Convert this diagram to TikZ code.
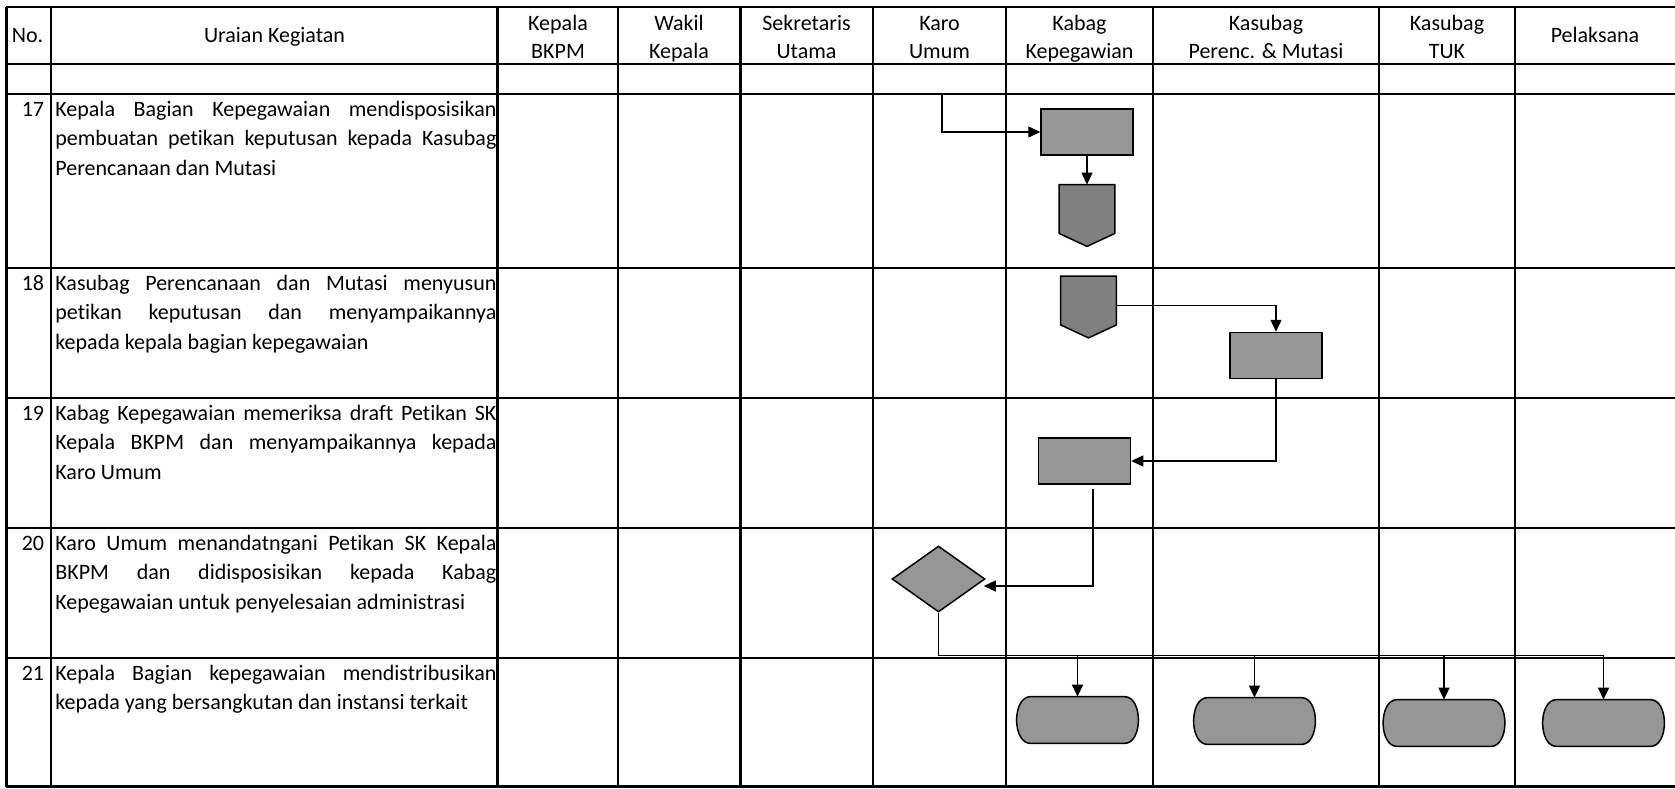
\documentclass[tikz,border=0pt]{standalone}
\usepackage{fontspec}
\setmainfont{Carlito}[Ligatures={NoCommon}]
\usetikzlibrary{arrows.meta,shapes.geometric}
\definecolor{boxgray}{HTML}{969696}
\definecolor{pentgray}{HTML}{808080}
\newcommand{\drawterm}[1]{\draw[shapeline,fill=boxgray] ([xshift=7pt]#1.north west) -- ([xshift=-7pt]#1.north east) .. controls ([xshift=2.33pt]#1.north east) and ([xshift=2.33pt]#1.south east) .. ([xshift=-7pt]#1.south east) -- ([xshift=7pt]#1.south west) .. controls ([xshift=-2.33pt]#1.south west) and ([xshift=-2.33pt]#1.north west) .. cycle;}
\newcommand{\drawpent}[1]{\draw[shapeline,fill=pentgray] (#1.north west) -- (#1.north east) -- (#1.south east) -- ([yshift=-6.5pt]#1.south) -- (#1.south west) -- cycle;}
\begin{document}
\begin{tikzpicture}[x=0.5pt,y=-0.5pt,
  gridline/.style={line width=1.05pt},
  fnt/.style={font=\fontsize{11pt}{15pt}\selectfont},
  hdr/.style={fnt,anchor=base,inner sep=0pt},
  txt/.style={fnt,anchor=base west,inner sep=0pt},
  num/.style={fnt,anchor=base east,inner sep=0pt},
  shapeline/.style={line width=0.75pt,draw=black},
  procbox/.style={rectangle,shapeline,fill=boxgray,minimum width=46pt,minimum height=23pt,inner sep=0pt},
  pentbox/.style={rectangle,draw=none,minimum width=27.5pt,minimum height=24pt,inner sep=0pt},
  decbox/.style={diamond,shapeline,fill=boxgray,minimum width=46.5pt,minimum height=33pt,inner sep=0pt},
  termbox/.style={rectangle,draw=none,minimum width=60.5pt,minimum height=23pt,inner sep=0pt},
  conn/.style={line width=0.7pt,-{Triangle[length=6pt,width=5.5pt]}}
]
\useasboundingbox (0,0) rectangle (1675,788);
% grid
\foreach \x in {6.5,51,497.5,618,740.5,873,1006,1153,1379,1515}
  \draw[gridline] (\x,7) -- (\x,786.5);
\foreach \y in {7,64,94,268,398,528,658,786.5}
  \draw[gridline] (6,\y) -- (1675,\y);
% header
\node[hdr] (hno) at (27.5,42) {No.};
\node[hdr] (hur) at (274.5,42) {Uraian Kegiatan};
\node[hdr] (hka) at (558,30.5) {Kepala};
\node[hdr] (hkb) at (558,58) {BKPM};
\node[hdr] (hwa) at (679,30.5) {Wakil};
\node[hdr] (hwb) at (679,58) {Kepala};
\node[hdr] (hsa) at (806.5,30.5) {Sekretaris};
\node[hdr] (hsb) at (806.5,58) {Utama};
\node[hdr] (hra) at (939.5,30.5) {Karo};
\node[hdr] (hrb) at (939.5,58) {Umum};
\node[hdr] (hba) at (1079.5,30.5) {Kabag};
\node[hdr] (hbb) at (1079.5,58) {Kepegawian};
\node[hdr] (hpa) at (1266,30.5) {Kasubag};
\node[hdr] (hpb) at (1266,58) {Perenc. \& Mutasi};
\node[hdr] (hta) at (1447,30.5) {Kasubag};
\node[hdr] (htb) at (1447,58) {TUK};
\node[hdr] (hpl) at (1595,42) {Pelaksana};
% rows
\node[num] (n17) at (44.5,116) {17};
\node[txt] (r17a) at (55,116) {\makebox[220.5pt][s]{Kepala Bagian Kepegawaian mendisposisikan}};
\node[txt] (r17b) at (55,145.5) {\makebox[220.5pt][s]{pembuatan petikan keputusan kepada Kasubag}};
\node[txt] (r17c) at (55,175) {Perencanaan dan Mutasi};
\node[num] (n18) at (44.5,290) {18};
\node[txt] (r18a) at (55,290) {\makebox[220.5pt][s]{Kasubag Perencanaan dan Mutasi menyusun}};
\node[txt] (r18b) at (55,319.5) {\makebox[220.5pt][s]{petikan keputusan dan menyampaikannya}};
\node[txt] (r18c) at (55,349) {kepada kepala bagian kepegawaian};
\node[num] (n19) at (44.5,420) {19};
\node[txt] (r19a) at (55,420) {\makebox[220.5pt][s]{Kabag Kepegawaian memeriksa draft Petikan SK}};
\node[txt] (r19b) at (55,449.5) {\makebox[220.5pt][s]{Kepala BKPM dan menyampaikannya kepada}};
\node[txt] (r19c) at (55,479) {Karo Umum};
\node[num] (n20) at (44.5,550) {20};
\node[txt] (r20a) at (55,550) {\makebox[220.5pt][s]{Karo Umum menandatngani Petikan SK Kepala}};
\node[txt] (r20b) at (55,579.5) {\makebox[220.5pt][s]{BKPM dan didisposisikan kepada Kabag}};
\node[txt] (r20c) at (55,609) {Kepegawaian untuk penyelesaian administrasi};
\node[num] (n21) at (44.5,680) {21};
\node[txt] (r21a) at (55,680) {\makebox[220.5pt][s]{Kepala Bagian kepegawaian mendistribusikan}};
\node[txt] (r21b) at (55,709.5) {kepada yang bersangkutan dan instansi terkait};
% flow shapes
\coordinate (s0) at (942,94);
\node[procbox] (a) at (1087,132) {};
\node[pentbox] (p1) at (1087,209) {};
\drawpent{p1}
\node[pentbox] (p2) at (1088.5,300.5) {};
\drawpent{p2}
\node[procbox] (b) at (1276,355.5) {};
\node[procbox] (c) at (1084.5,461) {};
\node[decbox] (d) at (938.5,579) {};
\node[termbox] (t1) at (1077.5,720) {};
\drawterm{t1}
\node[termbox] (t2) at (1254.5,721) {};
\drawterm{t2}
\node[termbox] (t3) at (1444,723) {};
\drawterm{t3}
\node[termbox] (t4) at (1603.5,723) {};
\drawterm{t4}
% connectors
\draw[conn] (s0) |- (a.west);
\draw[conn] (a.south) -- (p1.north);
\draw[conn] ([yshift=-2.5pt]p2.east) -| (b.north);
\draw[conn] (b.south) |- (c.east);
\draw[conn] ([xshift=4.25pt,yshift=-2pt]c.south) |- ([xshift=-1pt,yshift=-3.5pt]d.east);
\path (d.south) ++(0,43) coordinate (bus);
\draw[conn] (d.south) -- (bus) -| (t4.north);
\draw[conn] (bus -| t1.north) -- (t1.north);
\draw[conn] (bus -| t2.north) -- (t2.north);
\draw[conn] (bus -| t3.north) -- (t3.north);
\end{tikzpicture}
\end{document}
